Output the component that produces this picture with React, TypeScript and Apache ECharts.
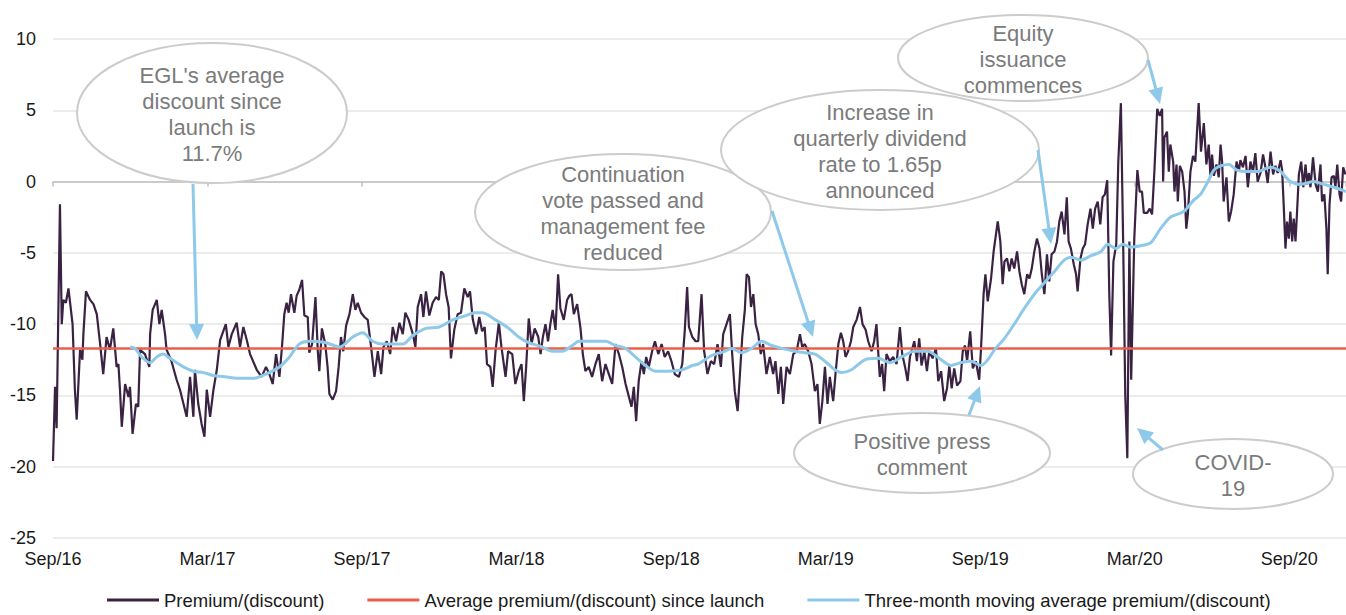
import React, { useEffect, useRef } from "react";
import * as echarts from "echarts";

// x = months since Sep 2016, y = premium/(discount) %
const xTickLabels = ["Sep/16", "Mar/17", "Sep/17", "Mar/18", "Sep/18", "Mar/19", "Sep/19", "Mar/20", "Sep/20"];
const xMax = 50.2;
const avgSinceLaunch = -11.7;

const premiumSep16toMay17: [number, number][] = [
  [0, -19.6], [0.08, -14.4], [0.14, -17.3], [0.27, -1.6], [0.34, -10], [0.4, -8.3], [0.5, -8.5], [0.6, -7.5],
  [0.76, -10], [0.85, -14.6], [0.92, -16.7], [1.05, -11.8], [1.14, -12.5], [1.18, -10.7], [1.28, -7.7],
  [1.44, -8.3], [1.57, -8.6], [1.7, -9.3], [1.83, -11.4], [1.95, -13.5], [2.08, -10.9], [2.21, -11.8],
  [2.34, -10.3], [2.47, -13], [2.54, -12.8], [2.6, -14.6], [2.67, -17.2], [2.8, -14.2], [2.93, -15.1],
  [2.99, -14.4], [3.09, -17.7], [3.22, -15.6], [3.31, -15.8], [3.38, -11.8], [3.57, -12.1], [3.74, -13],
  [3.77, -10.7], [3.87, -9], [4.03, -8.3], [4.13, -10], [4.22, -9], [4.35, -10.7], [4.41, -11.8], [4.6, -12.6],
  [4.8, -13.9], [4.93, -14.6], [5.19, -16.5], [5.32, -13.7], [5.45, -16.5], [5.51, -13.2], [5.64, -15.6],
  [5.77, -17], [5.88, -17.9], [5.97, -14.6], [6.1, -16.5], [6.23, -14.6], [6.36, -13.2], [6.49, -11.1],
  [6.71, -10], [6.81, -11.6], [6.94, -10.7], [7.13, -9.9], [7.26, -11.6], [7.39, -10.2], [7.52, -11.1],
  [7.65, -12.1], [7.91, -13.2], [8.1, -13.7],
];

const premiumMay17toJan18: [number, number][] = [
  [8.27, -13], [8.4, -13.5], [8.53, -14.2], [8.66, -12.1], [8.79, -13.7], [8.89, -11.6], [8.98, -9.3],
  [9.07, -8.5], [9.15, -9.2], [9.24, -7.9], [9.37, -9.2], [9.46, -8], [9.56, -7.6], [9.67, -6.9], [9.76, -9.4],
  [9.89, -9.5], [9.95, -12], [10.06, -11.4], [10.19, -8.1], [10.28, -11.9], [10.34, -13.3], [10.44, -10.3],
  [10.57, -11.4], [10.66, -13], [10.73, -14.9], [10.86, -15.3], [10.99, -14.7], [11.09, -13], [11.18, -10.9],
  [11.27, -11.9], [11.38, -10.1], [11.51, -9.3], [11.64, -7.9], [11.74, -9], [11.83, -8.5], [11.96, -9.2],
  [12.09, -9.5], [12.22, -9.7], [12.35, -11.6], [12.48, -13.7], [12.61, -11.9], [12.74, -13.5], [12.83, -11.6],
  [12.96, -11.2], [13.09, -12.1], [13.19, -10.2], [13.32, -11.2], [13.45, -9.9], [13.58, -10.7], [13.68, -9.2],
  [13.81, -9.7], [13.97, -10.7], [14.07, -11.6], [14.16, -8.8], [14.29, -7.9], [14.38, -9.5], [14.48, -7.7],
  [14.61, -9.4], [14.74, -8.5], [14.87, -8.1], [14.98, -8.3], [15.07, -6.3], [15.16, -6.5], [15.26, -7.9],
  [15.36, -8.8], [15.45, -12.4], [15.58, -10.4], [15.71, -9.3], [15.84, -9.2], [15.97, -7.5], [16.1, -8.1],
  [16.19, -7.7], [16.3, -9.7], [16.43, -10.7], [16.55, -9.5],
];

const premiumJan18toSep18: [number, number][] = [
  [16.66, -10.5], [16.76, -10.2], [16.85, -12.8], [16.98, -13], [17.07, -14.4], [17.18, -11.9], [17.31, -9.9],
  [17.41, -11.6], [17.57, -13.7], [17.67, -11.9], [17.83, -12.1], [17.95, -14.2], [18.08, -13.3], [18.19, -12.8],
  [18.28, -15.4], [18.37, -13], [18.47, -9.6], [18.58, -11.4], [18.7, -10.3], [18.84, -10.9], [18.93, -12.1],
  [19.02, -10.9], [19.12, -10], [19.22, -11.2], [19.31, -10], [19.4, -9], [19.51, -10.4], [19.61, -6.5],
  [19.7, -8.9], [19.83, -9.7], [19.96, -8.3], [20.05, -8], [20.13, -7.9], [20.22, -9.3], [20.35, -8.6],
  [20.48, -10.3], [20.57, -12.1], [20.67, -13.3], [20.8, -13], [20.93, -13.7], [21.06, -12.8], [21.19, -12.1],
  [21.32, -14], [21.45, -12.8], [21.58, -13.5], [21.71, -14.2], [21.84, -11.4], [21.97, -12.1], [22.1, -13],
  [22.23, -14.2], [22.36, -15.1], [22.46, -15.8], [22.55, -14.4], [22.64, -16.8], [22.74, -14], [22.85, -12.6],
  [22.94, -13.5], [23.03, -12.3], [23.13, -13], [23.26, -11.9], [23.37, -11.2], [23.5, -12.1], [23.63, -11.4],
  [23.75, -12.3], [23.88, -11.9], [24.01, -12.6], [24.14, -13.5], [24.3, -13.7], [24.43, -12.8], [24.53, -10.4],
  [24.62, -7.4], [24.69, -10.2], [24.82, -10.9], [24.95, -11.2],
];

const premiumSep18toMay19: [number, number][] = [
  [25.05, -11.2], [25.18, -7.9], [25.28, -11.9], [25.41, -13.5], [25.54, -12.6], [25.67, -12.8], [25.8, -11.4],
  [25.93, -13], [26.02, -10.7], [26.15, -10], [26.28, -9.3], [26.37, -12.1], [26.47, -14.7], [26.58, -16.1],
  [26.67, -13.5], [26.76, -10.9], [26.86, -9], [26.93, -6.5], [27.02, -6.7], [27.1, -8.8], [27.19, -7.9],
  [27.28, -10], [27.38, -10.7], [27.48, -12.1], [27.57, -11.4], [27.7, -13.5], [27.83, -12.3], [27.96, -13.5],
  [28.05, -12.6], [28.16, -14.9], [28.26, -13], [28.35, -15.6], [28.48, -13], [28.61, -13.5], [28.74, -12.1],
  [28.87, -11.9], [29, -10.7], [29.09, -11.6], [29.19, -11.4], [29.32, -11.9], [29.45, -12.8], [29.58, -14.7],
  [29.68, -14.2], [29.77, -17], [29.87, -15.4], [29.97, -13], [30.07, -15.6], [30.16, -13.7], [30.29, -15.4],
  [30.38, -13.5], [30.49, -11.4], [30.59, -10.6], [30.68, -11.2], [30.77, -12.3], [30.87, -11.9], [30.98, -11.2],
  [31.07, -10.2], [31.2, -9.7], [31.33, -8.8], [31.43, -10], [31.55, -10.4], [31.65, -11.2], [31.78, -11.9],
  [31.88, -11.2], [31.97, -10], [32.1, -13.7], [32.19, -12.8], [32.27, -14.7], [32.36, -12.1], [32.49, -12.6],
  [32.62, -12.3], [32.75, -12.8], [32.88, -10.2], [32.97, -12.1], [33.08, -13], [33.18, -14], [33.27, -12.3],
];

const premiumMay19toApr20: [number, number][] = [
  [33.44, -11.2], [33.54, -12.6], [33.63, -11], [33.72, -12.9], [33.83, -11.9], [33.93, -13.3], [34.02, -11.9],
  [34.15, -12.4], [34.28, -11.7], [34.37, -14], [34.48, -13.3], [34.6, -15.4], [34.71, -14.5], [34.8, -12.9],
  [34.89, -14.5], [34.99, -13.1], [35.1, -14.3], [35.23, -14], [35.32, -11.9], [35.41, -11.5], [35.49, -12.6],
  [35.61, -10.5], [35.71, -13.1], [35.83, -12.6], [35.96, -13.9], [36.03, -11.7], [36.13, -7.9], [36.2, -6.5],
  [36.29, -8.4], [36.42, -6.8], [36.52, -4.9], [36.61, -3.7], [36.68, -2.8], [36.78, -4.2], [36.87, -7.2],
  [36.94, -5.6], [37.04, -5.4], [37.13, -6.3], [37.22, -5.4], [37.32, -6.1], [37.43, -4.9], [37.52, -6.3],
  [37.61, -7.2], [37.71, -7.9], [37.82, -6.5], [37.91, -6.8], [38, -6.1], [38.1, -4.9], [38.2, -4], [38.3, -4.7],
  [38.39, -6.5], [38.49, -7.9], [38.59, -5.1], [38.68, -7], [38.77, -5.1], [38.88, -4.9], [38.98, -4.2],
  [39.07, -2.8], [39.16, -2.1], [39.27, -3.7], [39.36, -1.1], [39.43, -4.2], [39.52, -4.7], [39.63, -5.8],
  [39.72, -6.5], [39.78, -7.7], [39.89, -5.4], [39.98, -4.7], [40.07, -4.4], [40.17, -3], [40.28, -1.9],
  [40.37, -3.3], [40.46, -1.9], [40.56, -1.4], [40.66, -3], [40.75, -1.1], [40.84, -0.9], [40.93, 0.1],
  [41.01, -7.9], [41.08, -12.2], [41.17, -5.6], [41.28, -4.4], [41.36, 1.4], [41.46, 5.5], [41.55, -4.4],
  [41.63, -15], [41.71, -19.4], [41.79, -4.2], [41.86, -13.9], [41.98, -4.0],
];

const premiumApr20toNov20: [number, number][] = [
  [42.1, 0.8], [42.19, -0.7], [42.28, -0.7], [42.35, -2.2], [42.48, -2.2], [42.58, -1.9], [42.67, -2.3],
  [42.76, 0.7], [42.87, 5.1], [42.97, 4.6], [43.06, 5.1], [43.1, 0], [43.15, 3.1], [43.25, 3.5], [43.32, 0.7],
  [43.38, 2.6], [43.49, 1.4], [43.54, -0.7], [43.62, 1.2], [43.67, -1.4], [43.75, 1.1], [43.84, 0.7],
  [43.93, -0.7], [44.0, -3.3], [44.06, -2.3], [44.16, 0.7], [44.26, 1.8], [44.35, 1.4], [44.48, 5.5],
  [44.57, 2.1], [44.68, 4.1], [44.78, 1.2], [44.87, 2.6], [44.94, 0.3], [45.0, 1.9], [45.07, 0.4], [45.17, 1.2],
  [45.26, 0.3], [45.33, 2.6], [45.39, 1.4], [45.45, -1.4], [45.56, 0.3], [45.65, -2.8], [45.74, -2.1],
  [45.84, -0.9], [45.95, 1.4], [46.04, 0.7], [46.1, 1.5], [46.2, 1], [46.3, 1.8], [46.39, -0.4], [46.49, 1.4],
  [46.59, 0.7], [46.68, 2], [46.77, 0], [46.88, 0.6], [46.98, 1.9], [47.07, 1], [47.16, -0.1], [47.27, 2.1],
  [47.37, 0.5], [47.46, 1.1], [47.55, 0.6], [47.66, 1.5], [47.72, 0.8], [47.78, -1.6], [47.85, -4.7],
  [47.91, -2.8], [47.98, -4], [48.04, -2.1], [48.11, -4.2], [48.17, -2.6], [48.24, -4.2], [48.3, -2.1],
  [48.37, 0.5], [48.46, 1.4], [48.54, -0.4], [48.63, 1.2], [48.69, -0.2], [48.76, 0.6], [48.82, -0.4],
  [48.92, 1.7], [49.02, -0.2], [49.11, -0.7], [49.21, 1.2], [49.27, -1.4], [49.36, -0.9], [49.44, -3.3],
  [49.49, -6.5], [49.56, -1.6], [49.64, 0.3], [49.73, 0.4], [49.79, -0.4], [49.86, 1.2], [49.95, -0.9],
  [50.01, -1.4], [50.09, 1], [50.18, 0.5],
];

const movingAverage3m: [number, number][] = [
  [2.99, -11.6], [3.18, -11.7], [3.44, -12.3], [3.77, -12.7], [4.03, -12.3], [4.28, -12.1], [4.54, -12.4],
  [5.06, -13], [5.45, -13.3], [5.84, -13.4], [6.23, -13.6], [6.74, -13.7], [7.26, -13.8], [7.78, -13.8],
  [8.27, -13.5], [8.79, -13], [9.18, -12.3], [9.56, -11.4], [9.95, -11.2], [10.6, -11.3], [11.12, -11.6],
  [11.64, -10.9], [12.02, -10.6], [12.41, -11.2], [12.8, -11.4], [13.58, -11.4], [13.97, -10.8], [14.48, -10.3],
  [15.0, -10.2], [15.52, -9.7], [16.04, -9.4], [16.36, -9.2], [16.66, -9.2], [17.18, -9.7], [17.7, -10.3],
  [18.08, -10.9], [18.47, -11.3], [18.99, -11.6], [19.38, -11.9], [19.77, -11.9], [20.16, -11.5], [20.41, -11.2],
  [20.93, -11.2], [21.45, -11.2], [21.84, -11.5], [22.23, -11.7], [22.61, -12.3], [23.0, -12.9], [23.39, -13.3],
  [23.91, -13.3], [24.43, -13.2], [24.82, -12.9], [25.05, -12.8], [25.57, -12.2], [26.09, -11.9], [26.34, -11.7],
  [26.73, -12], [27.12, -11.7], [27.51, -11.2], [27.9, -11.5], [28.29, -11.7], [28.8, -11.9], [29.19, -12],
  [29.58, -12.1], [29.97, -12.6], [30.36, -13.2], [30.62, -13.4], [31.0, -13.2], [31.52, -12.5], [32.04, -12.4],
  [32.49, -12.7], [32.95, -12.3], [33.44, -11.9], [33.96, -11.9], [34.48, -12.5], [34.86, -12.9], [35.25, -12.7],
  [35.64, -12.6], [36.03, -12.9], [36.29, -12.5], [36.55, -11.8], [36.94, -11], [37.32, -10], [37.71, -8.9],
  [38.1, -7.9], [38.49, -7.1], [38.88, -6.3], [39.27, -5.5], [39.52, -5.3], [39.91, -5.5], [40.3, -5.2],
  [40.69, -4.9], [40.95, -4.4], [41.27, -4.7], [41.53, -4.4], [41.83, -4.6], [42.22, -4.5], [42.61, -4.3],
  [43.0, -3.3], [43.38, -2.5], [43.9, -2.1], [44.29, -1.3], [44.55, -0.9], [44.81, -0.1], [45.07, 0.8],
  [45.33, 1.1], [45.65, 1.2], [45.97, 0.8], [46.36, 0.7], [46.75, 0.7], [47.27, 1], [47.66, 0.7], [48.04, 0],
  [48.43, -0.2], [48.95, 0], [49.34, -0.2], [49.73, -0.4], [50.2, -0.7],
];

const seriesNames = [
  "Premium/(discount)",
  "Average premium/(discount) since launch",
  "Three-month moving average premium/(discount)",
];

type Note = { text: string; cx: number; cy: number; rx: number; ry: number; ax: number; ay: number; tx: number; ty: number };
const notes: Note[] = [
  { text: "EGL's average\ndiscount since\nlaunch is\n11.7%", cx: 212, cy: 113, rx: 135, ry: 70, ax: 193, ay: 184, tx: 197, ty: 340 },
  { text: "Continuation\nvote passed and\nmanagement fee\nreduced", cx: 623, cy: 212, rx: 148, ry: 58, ax: 772, ay: 211, tx: 813, ty: 337 },
  { text: "Increase in\nquarterly dividend\nrate to 1.65p\nannounced", cx: 880, cy: 150, rx: 159, ry: 60, ax: 1038, ay: 150, tx: 1051, ty: 244 },
  { text: "Equity\nissuance\ncommences", cx: 1023, cy: 58, rx: 125, ry: 43, ax: 1148, ay: 60, tx: 1160, ty: 104 },
  { text: "Positive press\ncomment", cx: 922, cy: 453, rx: 128, ry: 40, ax: 969, ay: 415, tx: 980, ty: 386 },
  { text: "COVID-\n19", cx: 1233, cy: 474, rx: 100, ry: 35, ax: 1163, ay: 450, tx: 1137, ty: 428 },
];

const FONT = "'Liberation Sans', Arial, sans-serif";
const ARROW = "#8ec9ea";

function buildGraphics() {
  const els: any[] = [];
  notes.forEach((n) => {
    els.push({
      type: "ellipse",
      shape: { cx: n.cx, cy: n.cy, rx: n.rx, ry: n.ry },
      style: { fill: "#ffffff", stroke: "#cccccc", lineWidth: 2 },
      z: 100,
    });
    els.push({
      type: "text",
      x: n.cx,
      y: n.cy + 1,
      style: {
        text: n.text,
        fill: "#7b7b7b",
        font: `22px ${FONT}`,
        lineHeight: 26,
        align: "center",
        verticalAlign: "middle",
        textAlign: "center",
        textVerticalAlign: "middle",
      },
      z: 101,
    });
    const dx = n.tx - n.ax, dy = n.ty - n.ay;
    const L = Math.hypot(dx, dy);
    const ux = dx / L, uy = dy / L;
    const hl = 16, hw = 7.5;
    const bx = n.tx - ux * hl, by = n.ty - uy * hl;
    els.push({
      type: "line",
      shape: { x1: n.ax, y1: n.ay, x2: bx + ux * 2, y2: by + uy * 2 },
      style: { stroke: ARROW, lineWidth: 3 },
      z: 102,
    });
    els.push({
      type: "polygon",
      shape: { points: [[n.tx, n.ty], [bx - uy * hw, by + ux * hw], [bx + uy * hw, by - ux * hw]] },
      style: { fill: ARROW },
      z: 102,
    });
  });
  return els;
}

export default function App() {
  const ref = useRef<HTMLDivElement>(null);
  useEffect(() => {
    if (!ref.current) return;
    const chart = echarts.init(ref.current, null, { renderer: "svg" });
    const premium = [
      ...premiumSep16toMay17,
      ...premiumMay17toJan18,
      ...premiumJan18toSep18,
      ...premiumSep18toMay19,
      ...premiumMay19toApr20,
      ...premiumApr20toNov20,
    ];
    chart.setOption({
      animation: false,
      textStyle: { fontFamily: FONT },
      grid: { left: 53, right: 0, top: 39, bottom: 77, containLabel: false },
      legend: {
        data: seriesNames,
        left: 107,
        top: 590,
        icon: "rect",
        itemWidth: 52,
        itemHeight: 3,
        itemGap: 43,
        padding: 0,
        textStyle: { fontSize: 18.5, lineHeight: 20, color: "#1a1a1a", fontFamily: FONT },
      },
      xAxis: [
        {
          type: "value",
          min: 0,
          max: xMax,
          interval: 6,
          axisLine: { show: false, onZero: false },
          axisTick: { show: false },
          splitLine: { show: false },
          axisLabel: {
            fontSize: 18,
            color: "#1a1a1a",
            margin: 12,
            showMaxLabel: false,
            formatter: (v: number) => {
              const i = Math.round(v / 6);
              return Math.abs(v - i * 6) < 1e-6 && i < xTickLabels.length ? xTickLabels[i] : "";
            },
          },
        },
        {
          type: "value",
          min: 0,
          max: xMax,
          interval: 6,
          position: "bottom",
          axisLine: { show: true, onZero: true, lineStyle: { color: "#bfbfbf", width: 1.5 } },
          axisTick: { show: true, length: 5, lineStyle: { color: "#bfbfbf", width: 1.5 } },
          axisLabel: { show: false },
          splitLine: { show: false },
        },
      ],
      yAxis: {
        type: "value",
        min: -25,
        max: 10,
        interval: 5,
        axisLine: { show: false },
        axisTick: { show: false },
        splitLine: { show: true, lineStyle: { color: "#e6e6e6", width: 1.5 } },
        axisLabel: { fontSize: 18, color: "#1a1a1a", margin: 17 },
      },
      series: [
        {
          name: seriesNames[0],
          type: "line",
          data: premium,
          showSymbol: false,
          lineStyle: { color: "#3a2242", width: 2.2 },
          itemStyle: { color: "#3a2242" },
          z: 3,
        },
        {
          name: seriesNames[1],
          type: "line",
          data: [[0, avgSinceLaunch], [xMax, avgSinceLaunch]],
          showSymbol: false,
          lineStyle: { color: "#e8604c", width: 2.5 },
          itemStyle: { color: "#e8604c" },
          z: 4,
        },
        {
          name: seriesNames[2],
          type: "line",
          data: movingAverage3m,
          showSymbol: false,
          smooth: 0.3,
          lineStyle: { color: "#8ec9ea", width: 3 },
          itemStyle: { color: "#8ec9ea" },
          z: 5,
        },
      ],
      graphic: buildGraphics(),
    });
    return () => chart.dispose();
  }, []);
  return <div ref={ref} style={{ position: "absolute", left: 0, top: 0, width: 1346, height: 615 }} />;
}
